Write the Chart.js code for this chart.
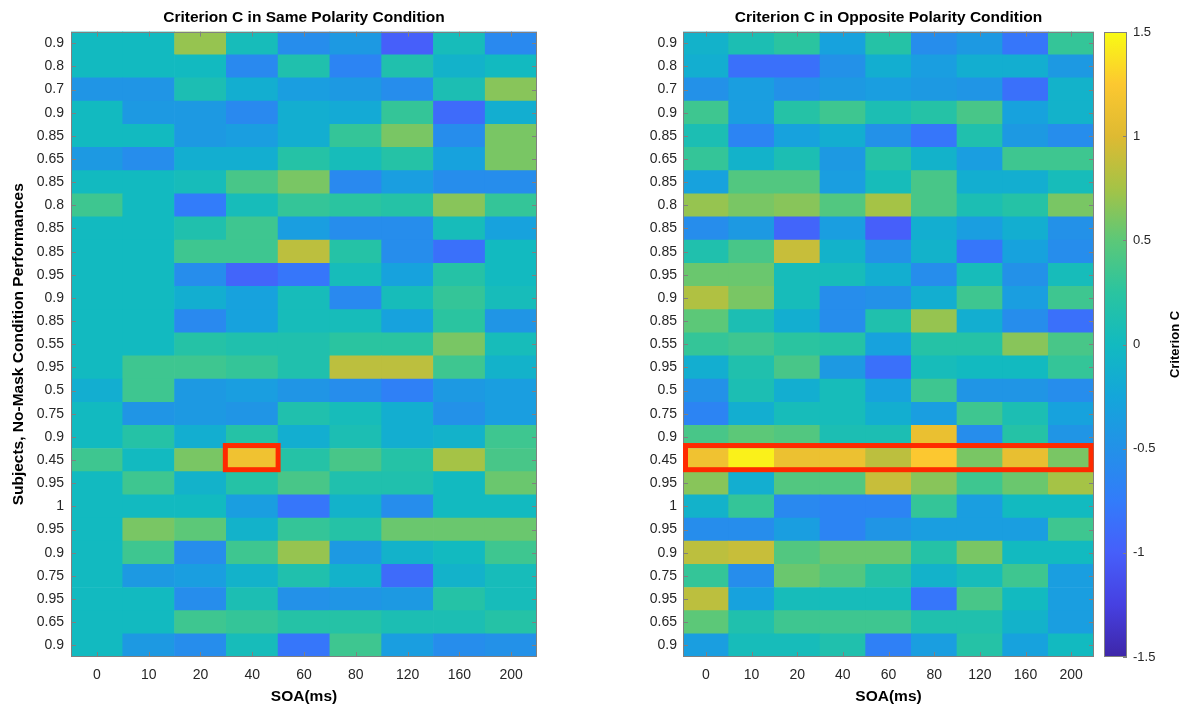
<!DOCTYPE html>
<html>
<head>
<meta charset="utf-8">
<script src="https://cdn.jsdelivr.net/npm/chart.js@4.4.0/dist/chart.umd.min.js"></script>
<style>
  html, body { margin: 0; padding: 0; background: #ffffff; }
  #wrap { position: relative; width: 1184px; height: 709px; overflow: hidden; }
  canvas { position: absolute; top: 0; }
</style>
</head>
<body>
<div id="wrap">
  <canvas id="left" width="592" height="709" style="left:0px"></canvas>
  <canvas id="right" width="505" height="709" style="left:592px"></canvas>
  <canvas id="cbar" width="87" height="709" style="left:1097px"></canvas>
</div>
<script>
// ---------------- DATA ----------------
const SOA = ['0', '10', '20', '40', '60', '80', '120', '160', '200'];
const ROW_LABELS = ['0.9','0.8','0.7','0.9','0.85','0.65','0.85','0.8','0.85','0.85','0.95','0.9','0.85','0.55','0.95','0.5','0.75','0.9','0.45','0.95','1','0.95','0.9','0.75','0.95','0.65','0.9'];

// Criterion C, same polarity (rows top -> bottom, columns = SOA)
const SAME = [
  [0, 0, 0.7, 0.05, -0.55, -0.4, -1.0, 0.05, -0.6],
  [0, 0, 0, -0.6, 0.15, -0.65, 0.15, -0.1, 0],
  [-0.45, -0.45, 0.1, -0.15, -0.35, -0.4, -0.55, 0.1, 0.65],
  [0, -0.4, -0.4, -0.6, -0.15, -0.2, 0.3, -0.9, -0.15],
  [0, 0, -0.4, -0.35, -0.15, 0.3, 0.6, -0.55, 0.6],
  [-0.4, -0.55, -0.15, -0.15, 0.2, 0.05, 0.2, -0.3, 0.6],
  [0, 0, 0.05, 0.4, 0.6, -0.6, -0.35, -0.55, -0.55],
  [0.35, 0, -0.75, 0.05, 0.3, 0.25, 0.2, 0.65, 0.3],
  [0, 0, 0.15, 0.35, -0.35, -0.55, -0.55, 0.05, -0.3],
  [0, 0, 0.35, 0.35, 0.85, 0.2, -0.55, -0.85, 0],
  [0, 0, -0.55, -0.95, -0.8, 0.05, -0.3, 0.2, 0],
  [0, 0, -0.15, -0.3, 0.05, -0.6, 0.05, 0.3, 0.05],
  [0, 0, -0.6, -0.3, 0.05, 0.05, -0.3, 0.25, -0.45],
  [0, 0, 0.2, 0.15, 0.15, 0.25, 0.25, 0.6, 0.05],
  [0, 0.35, 0.35, 0.3, 0.15, 0.85, 0.85, 0.35, -0.1],
  [-0.15, 0.35, -0.4, -0.35, -0.45, -0.55, -0.7, -0.4, -0.35],
  [0, -0.45, -0.4, -0.45, 0.15, 0.05, -0.15, -0.5, -0.35],
  [0, 0.2, -0.15, 0.2, -0.15, 0.1, -0.15, -0.1, 0.35],
  [0.35, 0, 0.6, 1.15, 0.2, 0.4, 0.2, 0.75, 0.4],
  [0, 0.35, -0.1, 0.2, 0.4, 0.15, 0.15, 0, 0.55],
  [0, 0, 0, -0.35, -0.8, -0.1, -0.55, 0, 0],
  [0, 0.6, 0.5, -0.1, 0.3, 0.2, 0.55, 0.55, 0.55],
  [0, 0.35, -0.55, 0.35, 0.7, -0.4, -0.1, 0, 0.35],
  [0, -0.4, -0.35, -0.1, 0.15, -0.1, -0.9, -0.1, 0.05],
  [0, 0, -0.55, 0.1, -0.5, -0.45, -0.4, 0.2, 0.05],
  [0, 0, 0.35, 0.3, 0.2, 0.2, 0.1, 0.1, 0.2],
  [0, -0.4, -0.55, 0.05, -0.8, 0.35, -0.35, -0.55, -0.5]
];

// Criterion C, opposite polarity
const OPPOSITE = [
  [-0.1, 0.1, 0.25, -0.3, 0.2, -0.55, -0.4, -0.8, 0.3],
  [-0.15, -0.85, -0.85, -0.5, -0.15, -0.35, -0.15, -0.15, -0.4],
  [-0.5, -0.35, -0.5, -0.4, -0.35, -0.4, -0.45, -0.85, -0.1],
  [0.35, -0.35, 0.2, 0.35, 0.1, 0.2, 0.4, -0.3, -0.1],
  [0.1, -0.65, -0.3, -0.15, -0.5, -0.8, 0.15, -0.4, -0.55],
  [0.3, -0.1, 0.1, -0.4, 0.2, -0.1, -0.35, 0.35, 0.35],
  [-0.3, 0.45, 0.45, -0.35, 0.05, 0.4, -0.15, -0.15, 0.05],
  [0.7, 0.6, 0.65, 0.45, 0.75, 0.4, 0.1, 0.2, 0.6],
  [-0.55, -0.4, -0.95, -0.35, -1.0, -0.15, -0.35, -0.15, -0.5],
  [0.15, 0.4, 0.9, -0.1, -0.5, -0.1, -0.8, -0.3, -0.55],
  [0.55, 0.55, 0.05, 0.05, -0.15, -0.55, 0.05, -0.5, 0.05],
  [0.8, 0.6, 0.05, -0.55, -0.5, -0.15, 0.35, -0.35, 0.35],
  [0.5, 0.1, -0.15, -0.55, 0.15, 0.7, -0.15, -0.55, -0.85],
  [0.3, 0.35, 0.25, 0.2, -0.3, 0.2, 0.2, 0.65, 0.4],
  [-0.15, 0.15, 0.4, -0.4, -0.85, 0.05, 0, 0, 0.3],
  [-0.5, 0.1, -0.15, 0.05, -0.3, 0.35, -0.45, -0.45, -0.55],
  [-0.65, -0.15, 0.05, 0.05, -0.15, -0.35, 0.35, 0.1, -0.3],
  [0.4, 0.5, 0.45, 0.1, 0.1, 1.1, -0.55, 0.2, -0.45],
  [1.15, 1.45, 1.12, 1.12, 0.85, 1.25, 0.6, 1.08, 0.6],
  [0.65, -0.15, 0.45, 0.45, 0.9, 0.65, 0.35, 0.55, 0.75],
  [-0.1, 0.3, -0.6, -0.65, -0.65, 0.3, -0.35, 0, 0],
  [-0.55, -0.55, -0.35, -0.65, -0.45, -0.35, -0.35, -0.35, 0.35],
  [0.85, 0.9, 0.45, 0.55, 0.55, 0.2, 0.6, 0, 0],
  [0.3, -0.55, 0.55, 0.45, 0.2, -0.1, 0.05, 0.35, -0.35],
  [0.85, -0.3, 0.05, 0.05, 0.05, -0.8, 0.4, 0, -0.35],
  [0.5, 0.15, 0.35, 0.35, 0.35, 0.15, 0.15, -0.1, -0.35],
  [-0.35, 0.05, 0.05, 0.15, -0.7, -0.35, 0.2, -0.3, 0]
];

// highlighted cells: [row, firstCol, lastCol]
const SAME_BOX = [18, 3, 3];
const OPPOSITE_BOX = [18, 0, 8];

const C_MIN = -1.5, C_MAX = 1.5;
const CBAR_TICKS_STEP = 0.5;

// ---------------- STYLE ----------------
const FONT = '"Liberation Sans", Arial, Helvetica, sans-serif';
const TICK_COLOR = '#262626';
const FRAME_COLOR = '#808080';
const HILITE = '#ff2a00';
const PARULA = [
  [0.000, [62, 38, 168]],
  [0.083, [70, 64, 225]],
  [0.167, [70, 95, 250]],
  [0.250, [50, 124, 250]],
  [0.333, [35, 145, 232]],
  [0.417, [20, 166, 218]],
  [0.500, [18, 186, 192]],
  [0.583, [42, 196, 160]],
  [0.667, [92, 200, 120]],
  [0.750, [165, 195, 70]],
  [0.833, [222, 186, 50]],
  [0.917, [252, 200, 48]],
  [1.000, [249, 251, 20]]
];

function parula(v) {
  let t = (v - C_MIN) / (C_MAX - C_MIN);
  t = Math.max(0, Math.min(1, t));
  for (let i = 1; i < PARULA.length; i++) {
    if (t <= PARULA[i][0]) {
      const [t0, c0] = PARULA[i - 1], [t1, c1] = PARULA[i];
      const f = (t - t0) / (t1 - t0);
      const c = c0.map((a, k) => Math.round(a + (c1[k] - a) * f));
      return `rgb(${c[0]},${c[1]},${c[2]})`;
    }
  }
  const c = PARULA[PARULA.length - 1][1];
  return `rgb(${c[0]},${c[1]},${c[2]})`;
}

const NROWS = ROW_LABELS.length;

function buildDatasets(values) {
  const ds = [];
  // stack from bottom row (last) to top row (first)
  for (let r = NROWS - 1; r >= 0; r--) {
    ds.push({
      label: 'row' + r,
      data: SOA.map(() => 1),
      backgroundColor: values[r].map(parula),
      borderWidth: 0,
      barPercentage: 1,
      categoryPercentage: 1,
      stack: 's'
    });
  }
  return ds;
}

const framePlugin = {
  id: 'frame',
  afterDatasetsDraw(chart, args, opts) {
    const { ctx, chartArea: a, scales } = chart;
    const xs = scales.x, ys = scales.y;
    ctx.save();
    ctx.strokeStyle = FRAME_COLOR;
    ctx.lineWidth = 1;
    ctx.beginPath();
    const tl = 5;
    xs.ticks.forEach((t, i) => {
      const px = Math.round(xs.getPixelForTick(i)) + 0.5;
      ctx.moveTo(px, a.bottom); ctx.lineTo(px, a.bottom - tl);
      ctx.moveTo(px, a.top); ctx.lineTo(px, a.top + tl);
    });
    ys.ticks.forEach((t, i) => {
      const py = Math.round(ys.getPixelForValue(t.value)) + 0.5;
      ctx.moveTo(a.left, py); ctx.lineTo(a.left + tl, py);
      ctx.moveTo(a.right, py); ctx.lineTo(a.right - tl, py);
    });
    ctx.stroke();
    ctx.strokeRect(Math.round(a.left) + 0.5, Math.round(a.top) + 0.5,
                   Math.round(a.right - a.left) - 1, Math.round(a.bottom - a.top) - 1);
    // highlight box
    const box = opts.box;
    if (box) {
      const [row, c0, c1] = box;
      const inset = opts.inset || [0, 0];
      const half = (xs.getPixelForValue(1) - xs.getPixelForValue(0)) / 2;
      const x0 = xs.getPixelForValue(c0) - half + inset[0];
      const x1 = xs.getPixelForValue(c1) + half - inset[1];
      const y0 = ys.getPixelForValue(NROWS - row) - 3;
      const y1 = ys.getPixelForValue(NROWS - row - 1) - 2;
      ctx.strokeStyle = HILITE;
      ctx.lineWidth = 5;
      ctx.strokeRect(x0, y0, x1 - x0, y1 - y0);
    }
    ctx.restore();
  }
};

function heatmap(id, title, values, box, inset, yWidth, rightPad, yTitle, tickPad) {
  return new Chart(document.getElementById(id), {
    type: 'bar',
    data: { labels: SOA, datasets: buildDatasets(values) },
    plugins: [framePlugin],
    options: {
      responsive: false,
      animation: false,
      devicePixelRatio: 1,
      layout: { padding: { left: 0, right: rightPad, top: 0, bottom: 0 } },
      plugins: {
        legend: { display: false },
        tooltip: { enabled: false },
        title: {
          display: true, text: title, fullSize: false, color: '#000',
          font: { family: FONT, size: 15.5, weight: 'bold' },
          padding: { top: 8, bottom: 5 }
        },
        frame: { box: box, inset: inset }
      },
      scales: {
        x: {
          type: 'category', stacked: true,
          grid: { display: false, drawTicks: false },
          border: { display: false },
          ticks: { color: TICK_COLOR, font: { family: FONT, size: 14 }, padding: 10, maxRotation: 0 },
          title: { display: true, text: 'SOA(ms)', color: '#000', font: { family: FONT, size: 15.5, weight: 'bold' }, padding: { top: 2, bottom: 3 } },
          afterFit: s => { s.height = 52; }
        },
        y: {
          type: 'linear', stacked: true, min: 0, max: NROWS,
          grid: { display: false, drawTicks: false },
          border: { display: false },
          afterBuildTicks: s => { s.ticks = ROW_LABELS.map((_, i) => ({ value: i + 0.5 })); },
          ticks: {
            autoSkip: false, color: TICK_COLOR, font: { family: FONT, size: 14 }, padding: tickPad,
            callback: v => ROW_LABELS[NROWS - 1 - Math.floor(v)]
          },
          title: { display: !!yTitle, text: yTitle || '', color: '#000', font: { family: FONT, size: 15.5, weight: 'bold' }, padding: { top: 9, bottom: 0 } },
          afterFit: s => { s.width = yWidth; }
        }
      }
    }
  });
}

heatmap('left', 'Criterion C in Same Polarity Condition', SAME, SAME_BOX, [-1, 0], 71, 55, 'Subjects, No-Mask Condition Performances', 7);
heatmap('right', 'Criterion C in Opposite Polarity Condition', OPPOSITE, OPPOSITE_BOX, [2.5, 3], 91, 3, null, 6);

// ---------------- COLORBAR ----------------
const cbarPlugin = {
  id: 'cbarFrame',
  afterDatasetsDraw(chart) {
    const { ctx, chartArea: a, scales } = chart;
    const ys = scales.y;
    ctx.save();
    ctx.strokeStyle = FRAME_COLOR;
    ctx.lineWidth = 1;
    ctx.strokeRect(Math.round(a.left) + 0.5, Math.round(a.top) + 0.5,
                   Math.round(a.right - a.left) - 1, Math.round(a.bottom - a.top) - 1);
    ctx.beginPath();
    ys.ticks.forEach(t => {
      const py = Math.round(ys.getPixelForValue(t.value)) + 0.5;
      ctx.moveTo(a.right, py); ctx.lineTo(a.right - 4, py);
    });
    ctx.stroke();
    ctx.fillStyle = '#000';
    ctx.font = 'bold 13px ' + FONT;
    ctx.textAlign = 'center';
    ctx.textBaseline = 'middle';
    ctx.translate(78, (a.top + a.bottom) / 2);
    ctx.rotate(-Math.PI / 2);
    ctx.fillText('Criterion C', 0, 0);
    ctx.restore();
  }
};

new Chart(document.getElementById('cbar'), {
  type: 'bar',
  data: {
    labels: ['C'],
    datasets: [{
      data: [[C_MIN, C_MAX]],
      borderWidth: 0,
      barPercentage: 1,
      categoryPercentage: 1,
      backgroundColor: (c) => {
        const area = c.chart.chartArea;
        if (!area) return 'rgba(0,0,0,0)';
        const g = c.chart.ctx.createLinearGradient(0, area.bottom, 0, area.top);
        PARULA.forEach(([t, col]) => g.addColorStop(t, `rgb(${col[0]},${col[1]},${col[2]})`));
        return g;
      }
    }]
  },
  plugins: [cbarPlugin],
  options: {
    responsive: false,
    animation: false,
    devicePixelRatio: 1,
    layout: { padding: { left: 7, right: 0, top: 32, bottom: 52 } },
    plugins: { legend: { display: false }, tooltip: { enabled: false } },
    scales: {
      x: { display: false },
      y: {
        position: 'right', min: C_MIN, max: C_MAX,
        grid: { display: false, drawTicks: false },
        border: { display: false },
        ticks: {
          stepSize: CBAR_TICKS_STEP, color: TICK_COLOR, font: { family: FONT, size: 13 }, padding: 6,
          callback: v => String(Math.round(v * 10) / 10)
        },
        afterFit: s => { s.width = 57; }
      }
    }
  }
});
</script>
</body>
</html>
